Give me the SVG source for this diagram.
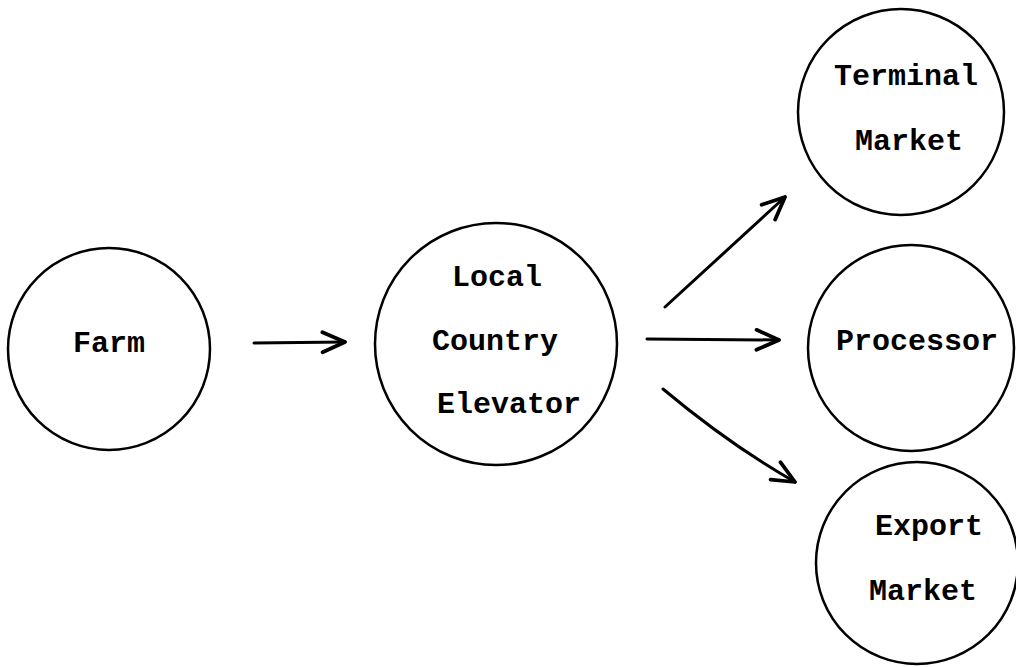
<svg xmlns="http://www.w3.org/2000/svg" width="1016" height="667" viewBox="0 0 1016 667">
<style>
.node circle{fill:none;stroke:#000;stroke-width:2.5}
.node text{font-family:"Liberation Mono","Courier New",monospace;font-weight:bold;font-size:30px;fill:#000;text-anchor:middle}
.conn path{fill:none;stroke:#000;stroke-width:3;stroke-linecap:round;stroke-linejoin:round}
</style>
<defs>
<marker id="arr" markerUnits="userSpaceOnUse" markerWidth="30" markerHeight="30" refX="20" refY="10" orient="auto" viewBox="0 0 24 20">
<path d="M2,2 L20,10 L2,18" fill="none" stroke="#000" stroke-width="3" stroke-linecap="round" stroke-linejoin="round"/>
</marker>
</defs>
<rect width="1016" height="667" fill="#fff"/>
<g id="farm" class="node">
<circle cx="109" cy="349" r="101"/>
<text x="109" y="352">Farm</text>
</g>
<g id="elevator" class="node">
<circle cx="496" cy="344" r="121"/>
<text x="497" y="286">Local</text>
<text x="495" y="350">Country</text>
<text x="509" y="413">Elevator</text>
</g>
<g id="terminal" class="node">
<circle cx="901" cy="112" r="103"/>
<text x="906" y="85">Terminal</text>
<text x="909" y="150">Market</text>
</g>
<g id="processor" class="node">
<circle cx="911" cy="348" r="103"/>
<text x="917" y="350">Processor</text>
</g>
<g id="export" class="node">
<circle cx="917" cy="563" r="101"/>
<text x="929" y="535">Export</text>
<text x="923" y="600">Market</text>
</g>
<g id="connectors" class="conn">
<path d="M254,343 L345,342" marker-end="url(#arr)"/>
<path d="M665,307 L785,197" marker-end="url(#arr)"/>
<path d="M647,339 L779,340" marker-end="url(#arr)"/>
<path d="M663,389 Q730,445 795,482" marker-end="url(#arr)"/>
</g>
</svg>
